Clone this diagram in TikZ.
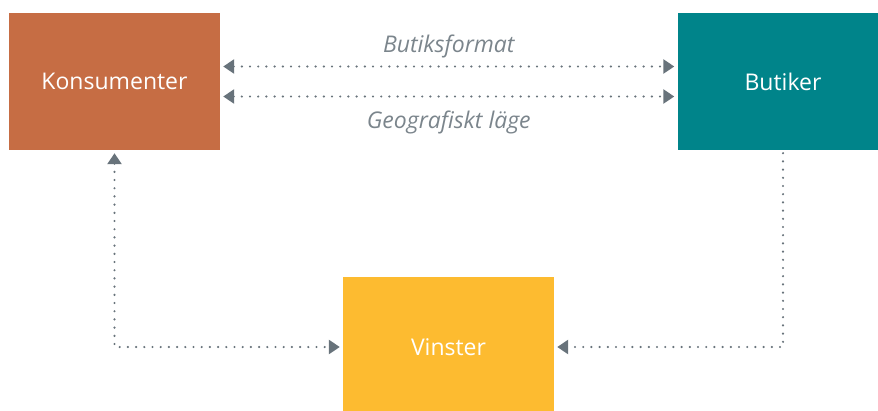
\documentclass[tikz,border=0pt]{standalone}
\usepackage{fontspec}
\setmainfont{Open Sans}
\usetikzlibrary{arrows.meta}

\definecolor{konsucol}{HTML}{C66D44}
\definecolor{butikcol}{HTML}{00848A}
\definecolor{vinstcol}{HTML}{FDBB30}
\definecolor{linkcol}{HTML}{68737B}
\definecolor{labcol}{HTML}{7B858C}

\tikzset{
  box/.style={fill=#1, text=white, minimum width=211pt, minimum height=137pt,
    inner sep=0pt, font=\fontsize{23}{27}\selectfont},
  link/.style={draw=linkcol, line width=2.4pt, line cap=round,
    dash pattern=on 0pt off 8.2pt, shorten <=3pt, shorten >=3pt,
    >={Triangle[length=11pt,width=14pt]}},
  lab/.style={text=labcol, inner sep=0pt, outer sep=0pt,
    font=\fontsize{23}{27}\selectfont\itshape}
}

\begin{document}
\begin{tikzpicture}[x=1pt, y=-1pt]

  \useasboundingbox (0,0) rectangle (878,410);

  % Nodes:
  \node[box=konsucol] (konsu) at (114.5,81.5) {Konsumenter};
  \node[box=butikcol] (butik) at (783,81.5) {Butiker};
  \node[box=vinstcol, minimum height=140pt] (vinst) at (448.5,347) {Vinster};

  % Connections:
  \draw[link, <->] ([yshift=15pt]konsu.east) -- ([yshift=15pt]konsu.east -| butik.west)
    node[lab, midway, above=8pt] {Butiksformat};
  \draw[link, <->] ([yshift=-15pt]konsu.east) -- ([yshift=-15pt]konsu.east -| butik.west)
    node[lab, midway, below=14pt] {Geografiskt läge};
  \draw[link, <->] (konsu) |- (vinst);
  \draw[link, ->] (butik) |- (vinst);

\end{tikzpicture}
\end{document}
